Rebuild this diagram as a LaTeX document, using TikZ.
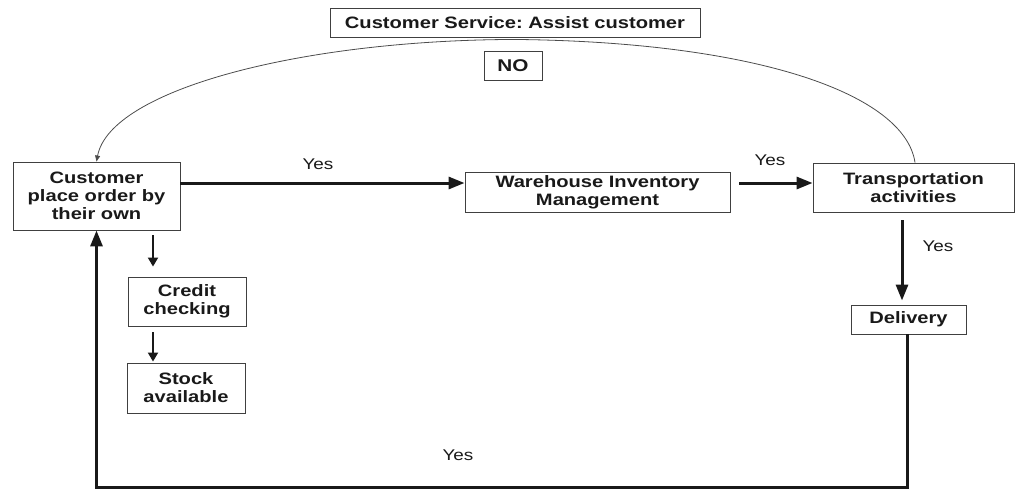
\documentclass[tikz,border=0pt]{standalone}
\usepackage{fontspec}
\setmainfont[FakeStretch=1.22]{Liberation Sans}
\usetikzlibrary{arrows.meta}
\frenchspacing

\begin{document}
\begin{tikzpicture}[x=1pt,y=-1pt,
  box/.style={draw=black!75, line width=0.9pt, align=center, inner sep=0pt,
    font=\bfseries\fontsize{16.5}{18}\selectfont, text=black!90},
  lbl/.style={font=\fontsize{15.5}{18}\selectfont, text=black!90, inner sep=0pt},
  flow/.style={draw=black!90, line width=3pt, -{Triangle[length=16pt,width=12pt]}},
  step arrow/.style={draw=black!90, line width=2pt, -{Triangle[length=9pt,width=10pt]}},
  back/.style={draw=black!70, line width=0.8pt, -{Triangle[length=6pt,width=5pt]}}]
\useasboundingbox (0,0) rectangle (1016,490);

% boxes
\node[box, minimum width=370pt, minimum height=29pt] (cs) at (515,22.5) {Customer Service: Assist customer};
\node[box, font=\bfseries\fontsize{17}{18}\selectfont, minimum width=58pt, minimum height=29pt] (no) at (513,65.5) {NO};
\node[box, minimum width=167pt, minimum height=68pt] (cust) at (96.5,196) {Customer\\place order by\\their own};
\node[box, minimum width=265pt, minimum height=40pt] (wh) at (597.5,192) {Warehouse Inventory\\Management};
\node[box, minimum width=201pt, minimum height=49pt] (tr) at (913.5,187.5) {Transportation\\activities};
\node[box, minimum width=118pt, minimum height=49pt] (cr) at (187,301.5) {Credit\\checking};
\node[box, minimum width=118pt, minimum height=50pt] (st) at (186,388) {Stock\\available};
\node[box, minimum width=115pt, minimum height=29pt] (del) at (908.5,319.5) {Delivery};

% guide coordinates for the straight connectors
\coordinate (row) at (0,183);
\coordinate (down) at (902,0);
\coordinate (ret) at (907,487);
\coordinate (side) at (153,0);
\coordinate (arcfoot) at (915,0);

% main flow
\draw[flow] (cust.east |- row) -- (wh.west |- row);
\draw[flow, shorten <=9pt] (wh.east |- row) -- (tr.west |- row);
\draw[flow, shorten <=8pt, shorten >=4pt] (tr.south -| down) -- (del.north -| down);
\draw[flow] (del.south -| ret) -- (ret) -| (cust.south);

% checks below the order box
\draw[step arrow, shorten <=5pt, shorten >=10pt] (cust.south -| side) -- (cr.north -| side);
\draw[step arrow, shorten <=6pt, shorten >=1pt] (cr.south -| side) -- (st.north -| side);

% return arc through customer service
\draw[back] (tr.north -| arcfoot) .. controls (905,95) and (760,42) .. ([yshift=-2pt]cs.south)
  .. controls (300,40) and (110,90) .. (cust.north);

% labels
\node[lbl] (y1) at (318,164) {Yes};
\node[lbl] (y2) at (770,160) {Yes};
\node[lbl] (y3) at (938,246) {Yes};
\node[lbl] (y4) at (458,455) {Yes};
\end{tikzpicture}
\end{document}
